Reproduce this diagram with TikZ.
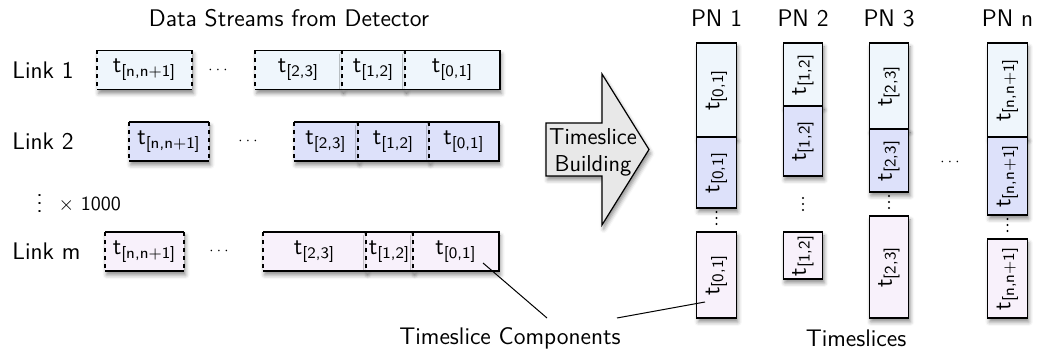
\documentclass[tikz,border=0pt]{standalone}
\usetikzlibrary{shadows.blur}
\definecolor{cA}{RGB}{239,246,252}
\definecolor{cB}{RGB}{221,225,250}
\definecolor{cC}{RGB}{248,241,251}
\definecolor{cArr}{RGB}{232,232,232}
\newcommand{\ts}[1]{t\textsubscript{[#1]}}
\newcommand{\rts}[1]{\rotatebox{90}{\ts{#1}}}
\newcommand{\hdts}{{\fontsize{7}{8}\selectfont$\cdots$}}
\begin{document}
\begin{tikzpicture}[x=0.5pt,y=-0.5pt,
  font=\sffamily\fontsize{12}{14}\selectfont,
  shad/.style={blur shadow={shadow xshift=0.8pt,shadow yshift=-2pt,shadow blur radius=2pt,shadow opacity=45}},
  seg/.style={inner sep=0pt,outer sep=0pt,shad},
  lrow/.style={seg,minimum height=19.5pt},
  pcol/.style={seg,draw=black,line width=0.6pt,minimum width=19.75pt},
  edge/.style={line width=0.6pt,black},
  dsh/.style={line width=0.6pt,black,dash pattern=on 2pt off 2pt},
  vdot/.style={line width=1.1pt,line cap=round,dash pattern=on 0pt off 3pt},
  lbl/.style={inner sep=0pt,anchor=west}]
\useasboundingbox (0,0) rectangle (1038,356);

% titles
\node (title) at (289,18) {Data Streams from Detector};
\node (pn1) at (716.5,18) {PN 1};
\node (pn2) at (803,18) {PN 2};
\node (pn3) at (889,18) {PN 3};
\node (pnn) at (1007.5,18) {PN n};

% link labels
\node[lbl] (l1) at (12,70) {Link 1};
\node[lbl] (l2) at (12,141.5) {Link 2};
\node[lbl] (lm) at (12,251.5) {Link m};
\node[lbl] (lx) at (36,198) {\raisebox{-1pt}{$\vdots$}\ \ {\fontsize{10}{12}\selectfont$\times$ 1000}};

% Link 1
\node[lrow,fill=cA,minimum width=47.5pt] (A1) at (144.5,70) {\ts{n,n+1}};
\node (d1) at (218,70) {\hdts};
\node[lrow,fill=cA,minimum width=43.5pt] (B1a) at (298.5,70) {\ts{2,3}};
\node[lrow,fill=cA,minimum width=31.5pt] (B1b) at (373.5,70) {\ts{1,2}};
\node[lrow,fill=cA,minimum width=47.5pt] (B1c) at (452.5,70) {\ts{0,1}};
% Link 2
\node[lrow,fill=cB,minimum width=40pt] (A2) at (169,141.5) {\ts{n,n+1}};
\node (d2) at (248,141.5) {\hdts};
\node[lrow,fill=cB,minimum width=32pt] (B2a) at (326,141.5) {\ts{2,3}};
\node[lrow,fill=cB,minimum width=35.5pt] (B2b) at (393.5,141.5) {\ts{1,2}};
\node[lrow,fill=cB,minimum width=35pt] (B2c) at (464,141.5) {\ts{0,1}};
% Link m
\node[lrow,fill=cC,minimum width=39.5pt] (A3) at (144.5,251.5) {\ts{n,n+1}};
\node (d3) at (219,251.5) {\hdts};
\node[lrow,fill=cC,minimum width=51.5pt] (B3a) at (314.5,251.5) {\ts{2,3}};
\node[lrow,fill=cC,minimum width=23.5pt] (B3b) at (389.5,251.5) {\ts{1,2}};
\node[lrow,fill=cC,minimum width=43pt] (B3c) at (456,251.5) {\ts{0,1}};

% borders of link boxes
\foreach \a/\b/\c/\d in {A1/B1a/B1b/B1c, A2/B2a/B2b/B2c, A3/B3a/B3b/B3c}{
  \draw[edge] (\a.north west) -- (\a.north east) (\a.south west) -- (\a.south east);
  \draw[dsh] (\a.north west) -- (\a.south west) (\a.north east) -- (\a.south east);
  \draw[edge] (\b.north west) -- (\d.north east) -- (\d.south east) -- (\b.south west);
  \draw[dsh] (\b.north west) -- (\b.south west) (\c.north west) -- (\c.south west) (\d.north west) -- (\d.south west);
}

% arrow
\filldraw[fill=cArr,draw=black,line width=0.6pt,shad]
  (546,123) -- (602,123) -- (602,74) -- (649,149.5) -- (602,225) -- (602,176) -- (546,176) -- cycle;
\node[align=center,inner sep=0pt,font=\sffamily\fontsize{11.5}{13.5}\selectfont] (arr) at (593,152) {Timeslice\\Building};

% PN columns
\node[pcol,fill=cA,minimum height=47pt] (P1a) at (716.5,90) {\rts{0,1}};
\node[pcol,fill=cB,minimum height=35.5pt] (P1b) at (716.5,172.5) {\rts{0,1}};
\node[pcol,fill=cC,minimum height=43pt] (P1c) at (716.5,275) {\rts{0,1}};
\draw[vdot,shorten <=2pt,shorten >=3pt] (P1b.south) -- (P1c.north);

\node[pcol,fill=cA,minimum height=31.5pt] (P2a) at (803,74.5) {\rts{1,2}};
\node[pcol,fill=cB,minimum height=35pt] (P2b) at (803,141) {\rts{1,2}};
\node[pcol,fill=cC,minimum height=23.5pt] (P2c) at (803,255.5) {\rts{1,2}};
\draw[vdot,shorten <=11pt,shorten >=8.5pt] (P2b.south) -- (P2c.north);

\node[pcol,fill=cA,minimum height=43pt] (P3a) at (889,86) {\rts{2,3}};
\node[pcol,fill=cB,minimum height=31.5pt] (P3b) at (889,160.5) {\rts{2,3}};
\node[pcol,fill=cC,minimum height=51pt] (P3c) at (889,267) {\rts{2,3}};
\draw[vdot,shorten <=2pt,shorten >=3pt] (P3b.south) -- (P3c.north);

\node (dp) at (950,162) {\hdts};

\node[pcol,fill=cA,minimum height=47pt] (Pna) at (1007.5,90) {\rts{n,n+1}};
\node[pcol,fill=cB,minimum height=39pt] (Pnb) at (1007.5,176) {\rts{n,n+1}};
\node[pcol,fill=cC,minimum height=39.5pt] (Pnc) at (1007.5,278.5) {\rts{n,n+1}};
\draw[vdot,shorten <=2pt,shorten >=3pt] (Pnb.south) -- (Pnc.north);

% bottom labels
\node (tsc) at (510,338) {Timeslice Components};
\node (tsl) at (856,338) {Timeslices};
\coordinate (c1) at (483,263);
\coordinate (c2) at (547,318);
\coordinate (c3) at (617,318);
\coordinate (c4) at (705,302);
\draw[line width=0.5pt] (c1) -- (c2);
\draw[line width=0.5pt] (c3) -- (c4);
\end{tikzpicture}
\end{document}
